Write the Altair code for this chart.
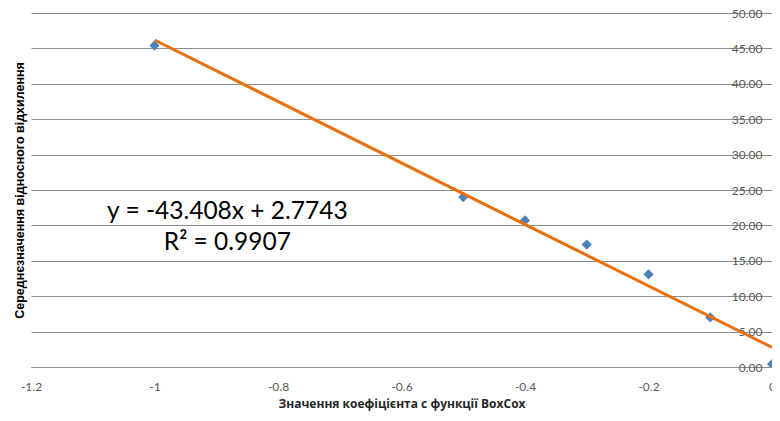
import altair as alt
import pandas as pd

# data
x_vals = [-1.0, -0.5, -0.4, -0.3, -0.2, -0.1, 0.0]
y_vals = [45.4, 24.0, 20.7, 17.3, 13.1, 7.0, 0.4]
trend_x = [-1.0, 0.0]
slope = -43.408
intercept = 2.7743
eq_lines = ["y = -43.408x + 2.7743", "R² = 0.9907"]
eq_x = [-0.882, -0.882]
eq_y = [21.9, 17.5]
x_ticks = [-1.2, -1.0, -0.8, -0.6, -0.4, -0.2, 0.0]
y_ticks = [0, 5, 10, 15, 20, 25, 30, 35, 40, 45, 50]

pts = pd.DataFrame({"x": x_vals, "y": y_vals})
trend = pd.DataFrame({"x": trend_x, "slope": [slope] * 2, "intercept": [intercept] * 2})
eq = pd.DataFrame({"x": eq_x, "y": eq_y, "t": eq_lines})

xscale = alt.Scale(domain=[-1.2, 0], nice=False, zero=False)
yscale = alt.Scale(domain=[0, 50], nice=False)

x_axis = alt.Axis(values=x_ticks, labelExpr="'' + datum.value",
                  title="Значення коефіцієнта с функції BoxCox",
                  grid=False, ticks=False, domain=True, domainColor="#8C8C8C",
                  labelFlush=False,
                  labelFont="Lato", labelFontSize=12, labelColor="#595959",
                  labelPadding=14, titleFont="Open Sans", titleFontSize=12,
                  titleFontWeight="bold", titleColor="#262626", titlePadding=6)

y_axis_right = alt.Axis(orient="right", values=y_ticks, format=".2f", title="",
                        grid=True, gridColor="#8C8C8C", gridWidth=1, ticks=False,
                        domain=True, domainColor="#8C8C8C", labelAlign="right",
                        labelPadding=-10, labelFont="Lato",
                        labelFontSize=12, labelColor="#595959")

y_axis_left = alt.Axis(orient="left", title="Середнєзначення відносного відхилення",
                       labels=False, ticks=False, domain=False, grid=False,
                       titleFont="Liberation Sans", titleFontSize=12.5,
                       titleFontWeight="bold", titleColor="#000000", titlePadding=5)

points = alt.Chart(pts).mark_point(shape="diamond", filled=True, size=105,
                                   color="#4F81BD", opacity=1, clip=True).encode(
    x=alt.X("x:Q", scale=xscale, axis=x_axis),
    y=alt.Y("y:Q", scale=yscale, axis=y_axis_right),
)

line = alt.Chart(trend).transform_calculate(
    ty="datum.slope * datum.x + datum.intercept"
).mark_line(color="#E8700F", strokeWidth=3, clip=True).encode(
    x=alt.X("x:Q", scale=xscale, axis=x_axis),
    y=alt.Y("ty:Q", scale=yscale, axis=y_axis_left),
)

text = alt.Chart(eq).mark_text(font="Lato", fontSize=24.5, color="#000000",
                               align="center", baseline="middle").encode(
    x=alt.X("x:Q", scale=xscale, axis=x_axis),
    y=alt.Y("y:Q", scale=yscale, axis=None),
    text="t:N",
)

chart = alt.layer(points, line, text).resolve_axis(y="independent").properties(
    width=741, height=354,
    autosize=alt.AutoSizeParams(type="none"),
    padding={"left": 23, "top": 5, "right": 0, "bottom": 46},
).configure_view(stroke=None)

chart.save("out.html", embed_options={"renderer": "svg", "actions": False})
